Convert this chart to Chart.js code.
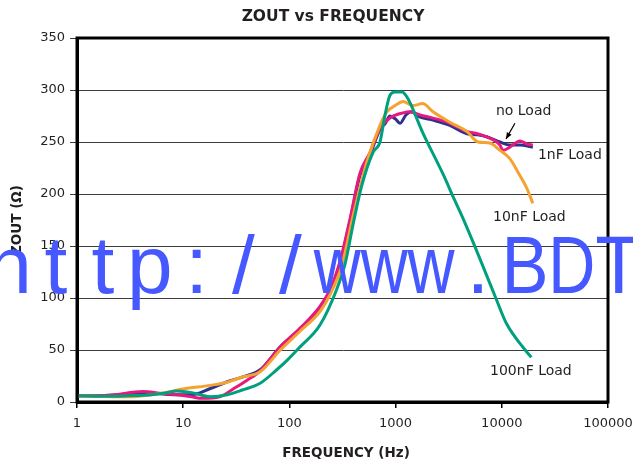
<!DOCTYPE html>
<html>
<head>
<meta charset="utf-8">
<script src="https://cdn.jsdelivr.net/npm/chart.js@4.4.1/dist/chart.umd.min.js"></script>
<style>
  html, body { margin: 0; padding: 0; background: #ffffff; }
  #wrap { width: 633px; height: 466px; }
</style>
</head>
<body>
<div id="wrap"><canvas id="c" width="633" height="466"></canvas></div>
<script>
// ---- Data ----
const xTickValues = [1, 10, 100, 1000, 10000, 100000];
const yTickStep = 50;

// no Load (dark blue)
const freqNoLoad = [1, 1.4, 2.5, 4.2, 8.7, 12, 18, 26, 36, 53, 82, 126, 194, 241, 299, 372, 462, 575, 713, 800, 885, 1000, 1100, 1250, 1400, 1700, 2250, 3240, 4700, 5900, 7200, 9600, 11900, 14800, 19600];
const zNoLoad    = [6, 6, 7, 9, 7, 7, 13, 19.5, 24, 31, 53, 70, 91, 107, 133, 174, 218, 238, 262, 268, 275, 272, 268, 276, 279, 274, 271, 266, 258, 257, 255, 250, 247, 247, 245];

// 1nF Load (magenta)
const freq1nF = [1, 2, 4.2, 6, 8.7, 12, 15, 22, 30, 40, 53, 82, 126, 194, 241, 299, 372, 462, 575, 713, 885, 1175, 1365, 1700, 2250, 3240, 4700, 5900, 7200, 9600, 10200, 11900, 14800, 17300, 19600];
const z1nF    = [6, 6.5, 10, 8.5, 7, 5, 3.5, 5, 13, 21, 30, 53, 71, 92, 108, 135, 176, 220, 240, 263, 273, 278, 279, 276, 273, 268, 260, 258, 255, 247, 242, 245, 251, 248, 247];

// 10nF Load (orange)
const freq10nF = [1, 3, 6, 10, 18, 26, 36, 53, 82, 126, 194, 241, 313, 400, 537, 713, 827, 990, 1175, 1450, 1800, 2250, 3240, 4700, 5970, 7700, 9600, 11900, 14200, 17300, 19600];
const z10nF    = [6, 5, 8, 12.5, 16, 19, 24, 29, 50, 68, 87, 103, 132, 180, 231, 266, 279, 285, 289, 285, 287, 279, 269, 260, 250, 249, 242, 234, 221, 205, 191];

// 100nF Load (green)
const freq100nF = [1, 2, 3, 5, 7, 8.7, 12, 15, 18, 26, 36, 53, 76, 95, 126, 194, 278, 333, 400, 480, 613, 713, 795, 885, 990, 1150, 1300, 1800, 2800, 3600, 4040, 5400, 8700, 11000, 16600, 19000];
const z100nF    = [6, 5.5, 6, 7, 9, 10.5, 9, 6.5, 5, 7, 11.5, 18, 31, 40, 53, 74, 108, 132, 172, 208, 240, 250, 276, 295, 298, 298, 292, 259, 219, 194, 183, 153, 101, 76, 50, 43];

const seriesNames  = ['no Load', '1nF Load', '10nF Load', '100nF Load'];
const seriesColors = ['#2b3190', '#e6197e', '#f5a330', '#00a07e'];

// ---- helpers ----
function pairs(xs, ys) { return xs.map((x, i) => ({ x: x, y: ys[i] })); }

const FONT = '"DejaVu Sans", "Liberation Sans", sans-serif';
const TEXT = '#231f20';

const overlay = {
  id: 'overlay',
  afterDraw(chart) {
    const ctx = chart.ctx;
    const a = chart.chartArea;
    const xs = chart.scales.x, ys = chart.scales.y;
    ctx.save();
    // frame
    ctx.strokeStyle = '#000';
    ctx.lineWidth = 3;
    ctx.strokeRect(a.left, a.top, a.right - a.left, a.bottom - a.top);

    // titles
    ctx.fillStyle = TEXT;
    ctx.textAlign = 'center';
    ctx.textBaseline = 'middle';
    ctx.font = 'bold 15.5px ' + FONT;
    ctx.fillText('ZOUT vs FREQUENCY', 333, 17);
    ctx.font = 'bold 13.5px ' + FONT;
    ctx.fillText('FREQUENCY (Hz)', 346, 453);
    ctx.save();
    ctx.translate(17, (a.top + a.bottom) / 2);
    ctx.rotate(-Math.PI / 2);
    ctx.fillText('ZOUT (\u03A9)', 0, 0);
    ctx.restore();

    // series labels
    ctx.font = '14px ' + FONT;
    ctx.textAlign = 'left';
    const lab = (t, fx, zy) => ctx.fillText(t, xs.getPixelForValue(fx), ys.getPixelForValue(zy));
    lab(seriesNames[0], 8800, 279);
    lab(seriesNames[1], 21900, 237.5);
    lab(seriesNames[2], 8260, 178);
    lab(seriesNames[3], 7750, 29);

    // arrow for "no Load"
    const x1 = xs.getPixelForValue(13300), y1 = ys.getPixelForValue(268);
    const x2 = xs.getPixelForValue(10960), y2 = ys.getPixelForValue(253);
    ctx.strokeStyle = '#000';
    ctx.lineWidth = 1.2;
    ctx.beginPath(); ctx.moveTo(x1, y1); ctx.lineTo(x2, y2); ctx.stroke();
    const ang = Math.atan2(y2 - y1, x2 - x1);
    ctx.fillStyle = '#000';
    ctx.beginPath();
    ctx.moveTo(x2, y2);
    ctx.lineTo(x2 - 7 * Math.cos(ang - 0.4), y2 - 7 * Math.sin(ang - 0.4));
    ctx.lineTo(x2 - 7 * Math.cos(ang + 0.4), y2 - 7 * Math.sin(ang + 0.4));
    ctx.closePath(); ctx.fill();

    // watermark
    const wm = 'http://www.BDT';
    ctx.fillStyle = '#4658ff';
    ctx.font = '82px "Liberation Sans", Arial, sans-serif';
    ctx.textAlign = 'center';
    ctx.textBaseline = 'alphabetic';
    for (let i = 0; i < wm.length; i++) {
      const w = ctx.measureText(wm[i]).width;
      const sx = w > 47 ? 47 / w : 1;
      ctx.save();
      ctx.translate(9 + i * 46.9, 293);
      ctx.scale(sx, 1);
      ctx.fillText(wm[i], 0, 0);
      ctx.restore();
    }
    ctx.restore();
  }
};

const lineDs = (label, data, color) => ({
  label: label,
  data: data,
  borderColor: color,
  backgroundColor: color,
  borderWidth: 3,
  pointRadius: 0,
  fill: false,
  cubicInterpolationMode: 'monotone'
});

new Chart(document.getElementById('c'), {
  type: 'line',
  data: {
    datasets: [
      lineDs(seriesNames[3], pairs(freq100nF, z100nF), seriesColors[3]),
      lineDs(seriesNames[2], pairs(freq10nF, z10nF), seriesColors[2]),
      lineDs(seriesNames[1], pairs(freq1nF, z1nF), seriesColors[1]),
      lineDs(seriesNames[0], pairs(freqNoLoad, zNoLoad), seriesColors[0])
    ]
  },
  options: {
    responsive: false,
    animation: false,
    parsing: true,
    layout: { padding: { top: 38, right: 25, left: 0, bottom: 0 } },
    plugins: { legend: { display: false }, title: { display: false }, tooltip: { enabled: false } },
    scales: {
      x: {
        type: 'logarithmic',
        min: 1, max: 100000,
        afterBuildTicks: (s) => { s.ticks = xTickValues.map(v => ({ value: v })); },
        afterFit: (s) => { s.height = 64; s.paddingLeft = 0; s.paddingRight = 0; },
        ticks: {
          autoSkip: false, maxRotation: 0, padding: 8,
          color: TEXT, font: { family: FONT, size: 13 },
          callback: (v) => String(v)
        },
        grid: { drawOnChartArea: false, drawTicks: true, tickLength: 6, color: '#000', lineWidth: 1.5 },
        border: { display: true, color: '#000', width: 3 }
      },
      y: {
        min: 0, max: 350,
        afterFit: (s) => { s.width = 77; },
        ticks: {
          stepSize: yTickStep, padding: 5,
          color: TEXT, font: { family: FONT, size: 13 }
        },
        grid: { drawOnChartArea: true, drawTicks: true, tickLength: 7, color: '#3c3c3c', lineWidth: 1 },
        border: { display: true, color: '#000', width: 3 }
      }
    }
  },
  plugins: [overlay]
});
</script>
</body>
</html>
